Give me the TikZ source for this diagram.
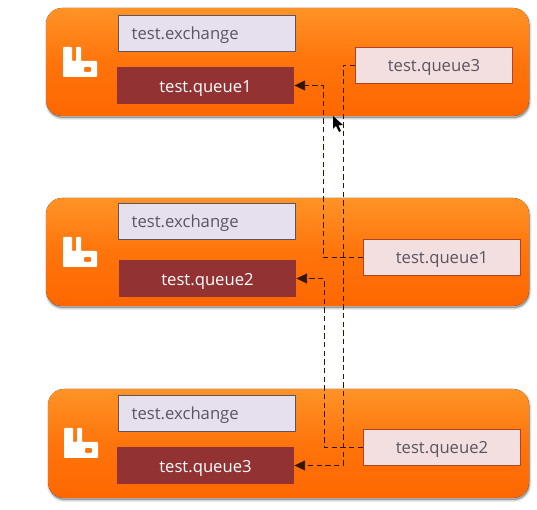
\documentclass[tikz,border=0pt]{standalone}
\usepackage{fontspec}
\setmainfont{Open Sans}
\usepackage{tikz}
\usetikzlibrary{arrows.meta,shadows}

\definecolor{exfill}{HTML}{E6E0EE}
\definecolor{qfill}{HTML}{933232}
\definecolor{sidefill}{HTML}{F3DFDF}
\definecolor{txtgray}{HTML}{5A5560}
\definecolor{orange1}{HTML}{FF9326}
\definecolor{orange2}{HTML}{FF6700}

% one pixel of the reference is 0.75pt
\newcommand{\rabbit}[2]{%
  \fill[white, even odd rule, rounded corners=0.6pt, shift={(#1,#2)}]
    (63,47) -- (72,47) -- (72,61) -- (76,61) -- (76,47) -- (81,47) -- (81,61)
    -- (97,61) -- (97,77) -- (63,77) -- cycle
    (84,67) rectangle (91,72);
}

\begin{document}
\begin{tikzpicture}[
  x=0.75pt, y=-0.75pt,
  panel/.style={rounded corners=12pt, top color=orange1, bottom color=orange2, middle color=orange2!70!orange1,
    drop shadow={shadow xshift=0.5pt, shadow yshift=-1.5pt, opacity=0.07, fill=black, draw=black, line width=3pt},
    drop shadow={shadow xshift=0.5pt, shadow yshift=-1.5pt, opacity=0.1, fill=black, draw=black, line width=1.5pt},
    drop shadow={shadow xshift=0.5pt, shadow yshift=-1.5pt, opacity=0.12, fill=black}},
  boxtext/.style={font=\fontsize{12.5}{15}\selectfont, text height=12.5pt, text depth=2.5pt},
  exbox/.style={boxtext, draw=txtgray, line width=0.6pt, fill=exfill, text=txtgray, minimum height=27pt, inner xsep=10pt, text width=113pt, align=left},
  qbox/.style={boxtext, fill=qfill, text=white, minimum width=133pt, minimum height=27.75pt},
  sidebox/.style={boxtext, draw=qfill!70!orange2, line width=0.6pt, fill=sidefill, text=txtgray, minimum width=118pt, minimum height=27pt},
  link/.style={draw=black!80!orange2, dash pattern=on 4pt off 2.5pt, line width=0.6pt, -{Triangle[length=8pt,width=7.5pt]}}
]
\useasboundingbox (0,0) rectangle (537,510);

% Draw the three panels
\fill[panel] (46,8) rectangle (529,116);
\fill[panel] (46,198) rectangle (529,306);
\fill[panel] (48,389) rectangle (529,498);

\rabbit{0}{0}
\rabbit{0}{190}
\rabbit{1}{381}

% Draw exchanges and queues
\node[exbox] (ex1) at (207, 33) {test.exchange};
\node[qbox] (q1) at (205.5, 85.5) {test.queue1};
\node[sidebox] (sq3) at (434, 65) {test.queue3};

\node[exbox] (ex2) at (207, 221) {test.exchange};
\node[qbox] (q2) at (207.5, 278.5) {test.queue2};
\node[sidebox] (sq1) at (442, 257) {test.queue1};

\node[exbox] (ex3) at (207, 413) {test.exchange};
\node[qbox] (q3) at (205.5, 465.5) {test.queue3};
\node[sidebox] (sq2) at (442, 447) {test.queue2};

% Draw dashed links
\draw[link] (sq3.west) -- ++(-12,0) |- (q3.east);
\draw[link] (sq1.west) -- ++(-40,0) |- (q1.east);
\draw[link] (sq2.west) -- ++(-39,0) |- (q2.east);

% Mouse pointer
\fill[black] (333,116) -- (333,129) -- (336,126) -- (339,132) -- (341,131) -- (338.5,125.5) -- (343,125) -- cycle;

\end{tikzpicture}
\end{document}
